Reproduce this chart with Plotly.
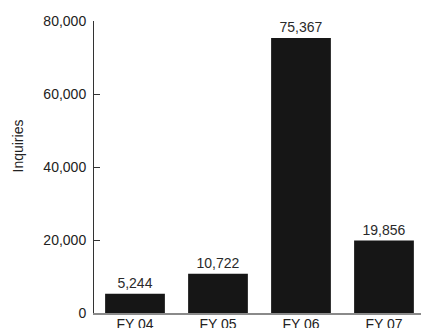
import plotly.graph_objects as go

categories = ["FY 04", "FY 05", "FY 06", "FY 07"]
inquiries = [5244, 10722, 75367, 19856]
value_labels = ["5,244", "10,722", "75,367", "19,856"]
y_tickvals = [0, 20000, 40000, 60000, 80000]
y_ticktext = ["0", "20,000", "40,000", "60,000", "80,000"]

FONT = "Liberation Sans, Arial, sans-serif"
FS = 14

fig = go.Figure(
    go.Bar(
        x=categories,
        y=inquiries,
        text=value_labels,
        textposition="outside",
        cliponaxis=False,
        textfont=dict(family=FONT, size=FS, color="#2a2a2a"),
        marker=dict(color="#161616", line=dict(width=0)),
        width=0.72,
    )
)

fig.update_layout(
    width=421,
    height=328,
    margin=dict(l=94, r=0, t=21, b=15, autoexpand=False),
    paper_bgcolor="white",
    plot_bgcolor="white",
    showlegend=False,
    font=dict(family=FONT, size=FS, color="#222222"),
    xaxis=dict(
        range=[-0.494, 3.446],
        showgrid=False,
        zeroline=False,
        showline=True,
        linecolor="#8a8a8a",
        linewidth=2,
        ticks="",
        automargin=False,
        tickfont=dict(family=FONT, size=FS, color="#222222"),
        ticklabelstandoff=-3,
    ),
    yaxis=dict(
        range=[0, 80000],
        tickvals=y_tickvals,
        ticktext=y_ticktext,
        showgrid=False,
        zeroline=False,
        showline=True,
        linecolor="#333333",
        linewidth=1,
        ticks="inside",
        ticklen=6,
        tickcolor="#333333",
        automargin=False,
        ticklabelstandoff=4,
        tickfont=dict(family=FONT, size=FS, color="#222222"),
    ),
    annotations=[
        dict(
            text="Inquiries",
            x=0,
            y=0,
            xref="paper",
            yref="paper",
            xanchor="center",
            yanchor="middle",
            showarrow=False,
            textangle=-90,
            font=dict(family=FONT, size=FS, color="#222222"),
        )
    ],
)
# convert pixel position of title to paper coords
pw, ph = 421 - 94, 328 - 21 - 15
fig.layout.annotations[0].x = (17.5 - 94) / pw
fig.layout.annotations[0].y = (328 - 15 - 146) / ph

fig.write_html(
    "out.html",
    config={"displayModeBar": False},
    post_script="document.body.style.margin='0';",
)
